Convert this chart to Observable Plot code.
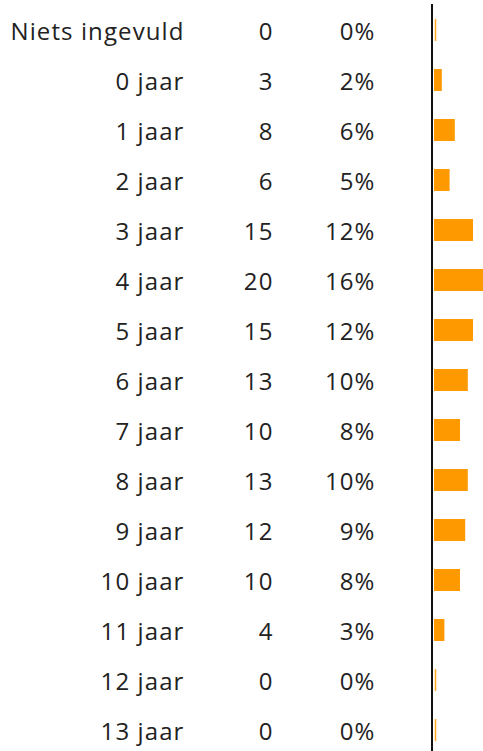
<!DOCTYPE html>
<html>
<head>
<meta charset="utf-8">
<script src="https://cdn.jsdelivr.net/npm/d3@7"></script>
<script src="https://cdn.jsdelivr.net/npm/@observablehq/plot@0.6"></script>
<style>
html,body{margin:0;padding:0;background:#fff;overflow:hidden;}
svg text{letter-spacing:1.1px;}
</style>
</head>
<body>
<div id="chart"></div>
<script>
const categories = ["Niets ingevuld","0 jaar","1 jaar","2 jaar","3 jaar","4 jaar","5 jaar","6 jaar","7 jaar","8 jaar","9 jaar","10 jaar","11 jaar","12 jaar","13 jaar"];
const counts = [0,3,8,6,15,20,15,13,10,13,12,10,4,0,0];
const percents = ["0%","2%","6%","5%","12%","16%","12%","10%","8%","10%","9%","8%","3%","0%","0%"];

const data = categories.map((c, i) => ({cat: c, n: counts[i], pct: percents[i]}));
const font = "'Open Sans', Lato, sans-serif";

const chart = Plot.plot({
  width: 483,
  height: 756,
  marginLeft: 434,
  marginRight: 0,
  marginTop: 4,
  marginBottom: 0,
  style: {fontFamily: font, background: "#fff"},
  x: {domain: [0, 49 / 2.6], axis: null},
  y: {domain: categories, axis: null, paddingInner: 0.56, paddingOuter: 0.28, align: 0.5},
  marks: [
    Plot.barX(data, {y: "cat", x: "n", fill: "#ff9900"}),
    Plot.tickX(data.filter(d => d.n === 0), {y: "cat", x: 0, dx: 1, stroke: "#ffa626", strokeWidth: 1.5}),
    Plot.ruleX([0], {stroke: "#111", strokeWidth: 2, dx: -2.5}),
    Plot.text(data, {y: "cat", text: "cat", frameAnchor: "left", textAnchor: "end", dx: -250, dy: 2, fontSize: 24, fill: "#222"}),
    Plot.text(data, {y: "cat", text: d => String(d.n), frameAnchor: "left", textAnchor: "end", dx: -161, dy: 2, fontSize: 24, fill: "#222"}),
    Plot.text(data, {y: "cat", text: "pct", frameAnchor: "left", textAnchor: "end", dx: -59, dy: 2, fontSize: 24, fill: "#222"})
  ]
});
document.getElementById("chart").appendChild(chart);
</script>
</body>
</html>
